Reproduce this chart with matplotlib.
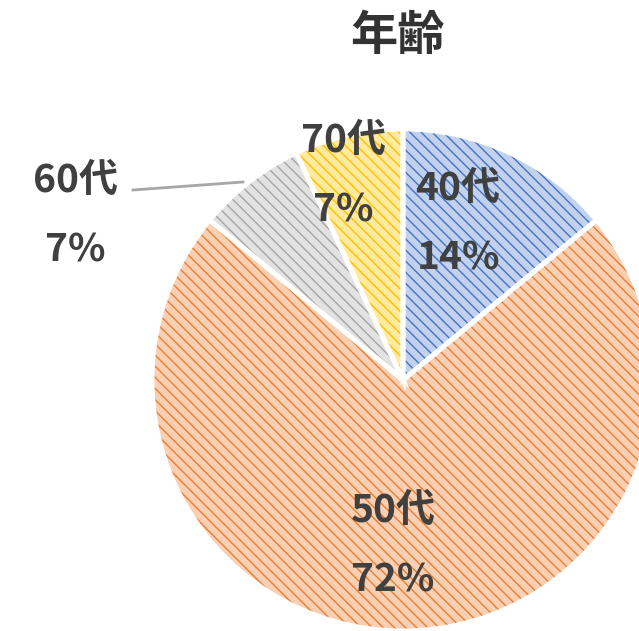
import matplotlib
matplotlib.use("Agg")
import matplotlib.pyplot as plt

plt.rcParams['font.family'] = ['Noto Sans CJK JP', 'DejaVu Sans']
plt.rcParams['hatch.linewidth'] = 1.0

title = "年齢"
ages = ["40代", "50代", "60代", "70代"]
shares = [14, 72, 7, 7]
hatch_colors = ["#4472C4", "#ED7D31", "#A5A5A5", "#FFC000"]
face_colors = ["#C2D2EE", "#F9D0B3", "#E2E2E2", "#FFEAA0"]

W, H = 639, 631
fig = plt.figure(figsize=(W / 100, H / 100), dpi=100)
ax = fig.add_axes([0, 0, 1, 1])

cx, cy, r = 403, H - 380, 251

# hatched fill; edgecolor drives the hatch colour
wedges, _ = ax.pie(shares, startangle=90, counterclock=False, center=(cx, cy),
                   radius=r, colors=face_colors, hatch="\\\\\\",
                   wedgeprops=dict(linewidth=0), frame=True)
for w, hc in zip(wedges, hatch_colors):
    w.set_edgecolor(hc)
    w.set_linewidth(0)
# white separators on top
ax.pie(shares, startangle=90, counterclock=False, center=(cx, cy), radius=r,
       colors=["none"] * 4, wedgeprops=dict(edgecolor="white", linewidth=3.5),
       frame=True)
ax.set_xlim(0, W)
ax.set_ylim(0, H)
ax.set_aspect("equal")
ax.axis("off")

txt = dict(fontsize=28, fontweight="bold", color="#404040", ha="center", va="center")
label_pos = {"40代": (458, 188), "50代": (393, 510), "60代": (75, 180), "70代": (343, 140)}
for name, val in zip(ages, shares):
    x, y = label_pos[name]
    ax.text(x, H - y, name, **txt)
    ax.text(x, H - y - 70, f"{val}%", **txt)

# leader line for 60代
ax.plot([133, 243], [H - 190, H - 182], color="#A6A6A6", lw=2)

ax.text(398, H - 36, title, fontsize=34, fontweight="bold", color="#333333",
        ha="center", va="center")

fig.savefig("out.png", dpi=100)
